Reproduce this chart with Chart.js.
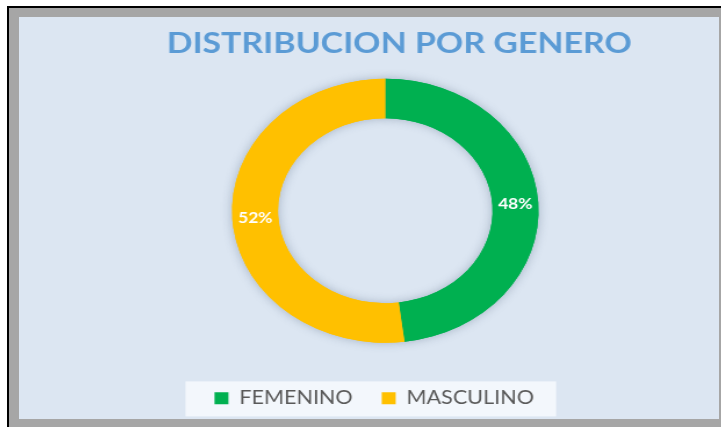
<!DOCTYPE html>
<html>
<head>
<meta charset="utf-8">
<script src="https://cdn.jsdelivr.net/npm/chart.js@4"></script>
<style>
  body { margin: 0; background: #fff; width: 721px; height: 427px; overflow: hidden; position: relative; }
  .edge { position: absolute; width: 800px; height: 800px; }
  #outline { left: 7px; top: 6px; background: #000; }
  #mat { left: 9px; top: 8px; background: #a6a6a6; }
  #panel { position: absolute; left: 19px; top: 17px; width: 700px; height: 402px; background: #dce6f2; overflow: hidden; }
  #stretch { width: 603px; height: 402px; transform: scaleX(1.161); transform-origin: 0 0; }
</style>
</head>
<body>
<div class="edge" id="outline"></div>
<div class="edge" id="mat"></div>
<div id="panel">
  <div id="stretch"><canvas id="chart" width="603" height="402"></canvas></div>
</div>
<script>
const categories = ["FEMENINO", "MASCULINO"];
const values = [48, 52];
const colors = ["#00b050", "#ffc000"];
const chartTitle = "DISTRIBUCION POR GENERO";

// the title and legend sit a little off the ring's centre in the original
const TITLE_SHIFT = 12;
const LEGEND_SHIFT = -9.5;

const nudgeBoxes = {
  id: "nudgeBoxes",
  afterLayout(chart) {
    if (chart.titleBlock) {
      chart.titleBlock.left += TITLE_SHIFT;
      chart.titleBlock.right += TITLE_SHIFT;
    }
    if (chart.legend) {
      chart.legend.left += LEGEND_SHIFT;
      chart.legend.right += LEGEND_SHIFT;
    }
  }
};

// pale box behind the legend row
const legendPanel = {
  id: "legendPanel",
  beforeDraw(chart) {
    const lg = chart.legend;
    if (!lg || !lg.lineWidths) return;
    const pad = lg.options.labels.padding;
    const w = lg.lineWidths[0] - pad;
    const cx = (lg.left + lg.right) / 2;
    const cy = lg.top + pad + 10;
    const ctx = chart.ctx;
    ctx.save();
    ctx.fillStyle = "#f3f7fc";
    ctx.fillRect(cx - w / 2 - 25, cy - 17.5, w + 44, 35);
    ctx.restore();
  }
};

// soft shadow under the ring, then percent labels on top
const ringExtras = {
  id: "ringExtras",
  beforeDatasetsDraw(chart) {
    const ctx = chart.ctx;
    ctx.save();
    ctx.shadowColor = "rgba(60,80,110,0.35)";
    ctx.shadowBlur = 10;
    chart.getDatasetMeta(0).data.forEach((arc) => arc.draw(ctx));
    ctx.restore();
  },
  afterDatasetsDraw(chart) {
    const ctx = chart.ctx;
    const total = values.reduce((a, b) => a + b, 0);
    ctx.save();
    ctx.fillStyle = "#ffffff";
    ctx.font = "bold 15px Lato";
    ctx.textAlign = "center";
    ctx.textBaseline = "middle";
    chart.getDatasetMeta(0).data.forEach((arc, i) => {
      const { x, y } = arc.tooltipPosition();
      ctx.fillText(Math.round((values[i] / total) * 100) + "%", x, y);
    });
    ctx.restore();
  }
};

new Chart(document.getElementById("chart"), {
  type: "doughnut",
  data: {
    labels: categories,
    datasets: [{
      data: values,
      backgroundColor: colors,
      borderWidth: 0,
      radius: 132,
      cutout: "70%"
    }]
  },
  options: {
    responsive: false,
    animation: false,
    devicePixelRatio: 1,
    layout: { padding: { left: 28, right: 0, top: 0, bottom: 1.5 } },
    plugins: {
      title: {
        display: true,
        text: chartTitle,
        color: "#5b9bd5",
        font: { family: "Lato", weight: "bold", size: 29.2, lineHeight: 0.9 },
        padding: { top: 13.8, bottom: 0.5 }
      },
      legend: {
        position: "bottom",
        labels: {
          boxWidth: 12,
          boxHeight: 12,
          padding: 25,
          color: "#595959",
          font: { family: "Lato", size: 18.6 }
        }
      },
      tooltip: { enabled: false }
    }
  },
  plugins: [nudgeBoxes, legendPanel, ringExtras]
});
</script>
</body>
</html>
